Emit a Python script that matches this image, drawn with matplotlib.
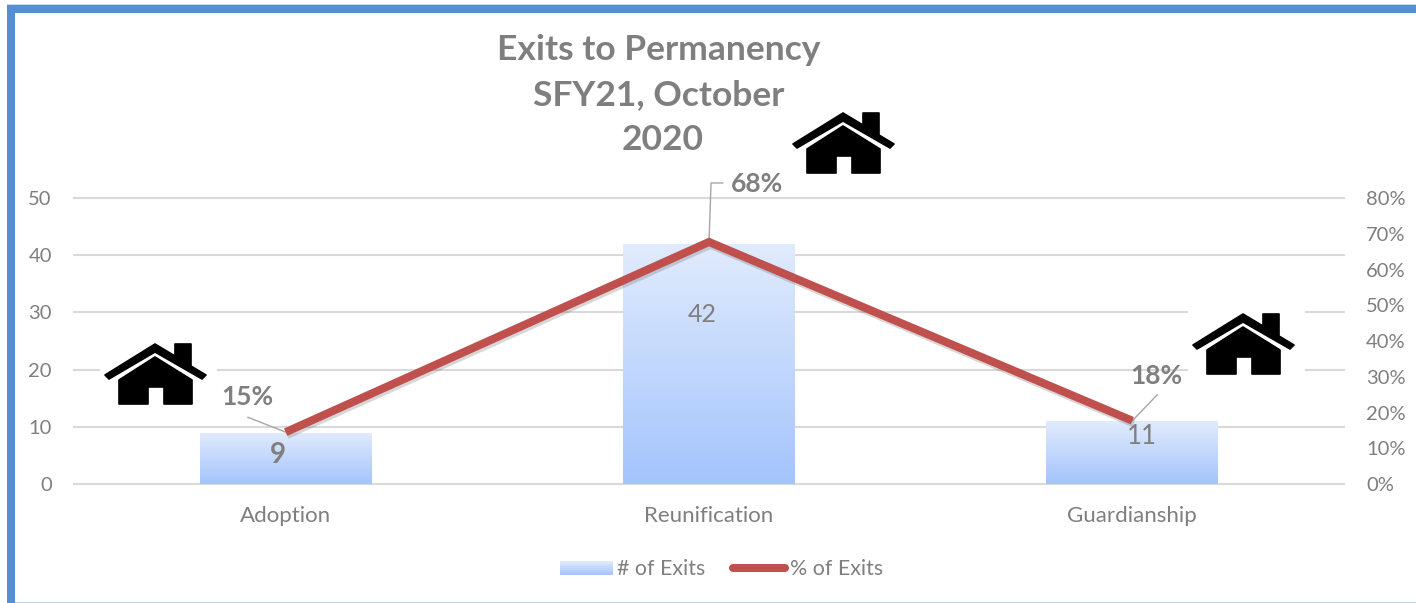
import numpy as np
import matplotlib
matplotlib.use("Agg")
import matplotlib.pyplot as plt
import matplotlib.patheffects as pe
from matplotlib.colors import LinearSegmentedColormap
from matplotlib.patches import PathPatch, Rectangle
from matplotlib.path import Path
from matplotlib.transforms import Affine2D

categories = ['Adoption', 'Reunification', 'Guardianship']
exits = [9, 42, 11]
exit_pct = [14.5, 67.7, 17.7]
pct_labels = ['15%', '68%', '18%']
count_ticks = [0, 10, 20, 30, 40, 50]
pct_ticks = [0, 10, 20, 30, 40, 50, 60, 70, 80]
title_lines = ['Exits to Permanency', 'SFY21, October', '2020']

GREY = '#7F7F7F'
RED = '#C0504D'
W, H = 1416, 603

plt.rcParams['font.family'] = ['Lato', 'DejaVu Sans']

fig = plt.figure(figsize=(W / 100, H / 100), dpi=100)
# everything decorative is placed in reference pixels, y going down
px = Affine2D().scale(1, -1).translate(0, H)

ax = fig.add_axes([74 / W, 1 - 484 / H, 1270 / W, 286 / H])
ax2 = ax.twinx()

# bars with a vertical gradient
grad = LinearSegmentedColormap.from_list('bar', ['#A4C4FC', '#E1EBFD'])
g = np.linspace(0, 1, 128).reshape(-1, 1)
bars = ax.bar(range(3), exits, 0.406, color='#DCE8FD', zorder=2,
              path_effects=[pe.SimplePatchShadow(offset=(0, -1.5), alpha=0.3, shadow_rgbFace='#808080'), pe.Normal()])
for b in bars:
    im = ax.imshow(g, cmap=grad, origin='lower', aspect='auto', zorder=3,
                   extent=[b.get_x(), b.get_x() + b.get_width(), 0, b.get_height()])
    im.set_clip_path(b)

ax.set_xlim(-0.5, 2.5)
ax.set_ylim(0, 50)
ax.set_xticks(range(3), categories)
ax.set_yticks(count_ticks)
ax.grid(axis='y', color='#D9D9D9', lw=1.5, zorder=1, clip_on=False)
ax.set_axisbelow(True)
ax.tick_params(axis='y', length=0, labelsize=14.5, labelcolor=GREY, pad=16)
ax.tick_params(axis='x', length=0, labelsize=16, labelcolor=GREY, pad=16)

ax2.plot(range(3), exit_pct, color=RED, lw=5.8, solid_capstyle='butt', solid_joinstyle='miter', zorder=5,
         path_effects=[pe.SimpleLineShadow(offset=(1, -2), alpha=0.25, shadow_color='#606060'), pe.Normal()])
ax2.set_ylim(0, 80)
ax2.set_yticks(pct_ticks, [f'{t}%' for t in pct_ticks])
ax2.tick_params(axis='y', length=0, labelsize=14.5, labelcolor=GREY, pad=16)

for a in (ax, ax2):
    for s in a.spines.values():
        s.set_visible(False)

# bar values
ax.text(-0.018, 5.1, '9', ha='center', va='center', fontsize=20, color=GREY, weight='bold', zorder=6)
ax.text(1 - 0.016, 29.6, '42', ha='center', va='center', fontsize=18, color=GREY, zorder=6)
ax.text(2 + 0.022, 8.3, '11', ha='center', va='center', fontsize=18.5, color=GREY, zorder=6)

# percent labels with leader lines
ax2.annotate(pct_labels[0], (0, exit_pct[0]), xytext=(-38, 35), textcoords='offset pixels', ha='center', va='center',
             fontsize=19, weight='bold', color=GREY)
ax2.annotate('', (0, exit_pct[0]), xytext=(-38, 15), textcoords='offset pixels',
             arrowprops=dict(arrowstyle='-', color='#A6A6A6', lw=1, shrinkA=0, shrinkB=0))
ax2.annotate(pct_labels[1], (1, exit_pct[1]), xytext=(48, 58), textcoords='offset pixels', ha='center', va='center',
             fontsize=19, weight='bold', color=GREY)
ax2.annotate('', (1, exit_pct[1]), xytext=(14, 59), textcoords='offset pixels',
             arrowprops=dict(arrowstyle='-', color='#A6A6A6', lw=1, shrinkA=0, shrinkB=0,
                             connectionstyle='angle,angleA=0,angleB=88,rad=0'))
ax2.annotate(pct_labels[2], (2, exit_pct[2]), xytext=(24, 45), textcoords='offset pixels', ha='center', va='center',
             fontsize=19, weight='bold', color=GREY)
ax2.annotate('', (2, exit_pct[2]), xytext=(25, 26), textcoords='offset pixels',
             arrowprops=dict(arrowstyle='-', color='#A6A6A6', lw=1, shrinkA=0, shrinkB=0))

# title
for x, y, line in zip([659, 659, 663], [50, 95, 140], title_lines):
    fig.text(x / W, 1 - y / H, line, ha='center', va='center', fontsize=25.5, weight='bold', color=GREY)

# frame
fig.add_artist(Rectangle((7, 5), W - 7, 8, transform=px, color='#558ED5', lw=0))
fig.add_artist(Rectangle((7, 5), 8, H - 5, transform=px, color='#558ED5', lw=0))
fig.add_artist(Rectangle((7, 3.5), W - 7, 1.5, transform=px, color='#C6D9F0', lw=0))
fig.add_artist(Rectangle((15, 601.5), W - 15, 1.5, transform=px, color='#B9D2F0', lw=0))


def house(x, y):
    # 103 x 63 px icon, top left at x, y; roof band then body with door
    roof = [(1, 32), (51, 1), (71, 13), (71, 1), (87, 1), (87, 23), (102, 32), (98, 36), (51, 9), (5, 36)]
    body = [(15, 37), (51, 14), (88, 37), (88, 61), (60, 61), (60, 44), (44, 44), (44, 61), (15, 61)]
    verts, codes = [], []
    for part in (roof, body):
        verts += part + [part[0]]
        codes += [Path.MOVETO] + [Path.LINETO] * (len(part) - 1) + [Path.CLOSEPOLY]
    shape = Path(np.array(verts, float) + [x, y], codes)
    fig.add_artist(PathPatch(shape, transform=px, facecolor='black', edgecolor='black', lw=1.2, joinstyle='round',
                             zorder=6))


# white boxes behind two houses break the gridlines
fig.add_artist(Rectangle((100, 340), 117, 70, transform=px, color='white', lw=0, zorder=1))
fig.add_artist(Rectangle((1188, 306), 117, 72, transform=px, color='white', lw=0, zorder=1))
house(104, 343)
house(792, 112)
house(1192, 313)

# legend
swatch = fig.add_axes([560 / W, 1 - 575 / H, 53 / W, 14 / H])
swatch.imshow(g, cmap=grad, origin='lower', aspect='auto')
swatch.axis('off')
fig.text(617 / W, 1 - 569 / H, '# of Exits', ha='left', va='center', fontsize=15.4, color=GREY)
fig.add_artist(plt.Line2D([733, 785], [568, 568], transform=px, color=RED, lw=5.8, solid_capstyle='round'))
fig.text(790 / W, 1 - 569 / H, '% of Exits', ha='left', va='center', fontsize=15.4, color=GREY)

fig.savefig('out.png', dpi=100)
